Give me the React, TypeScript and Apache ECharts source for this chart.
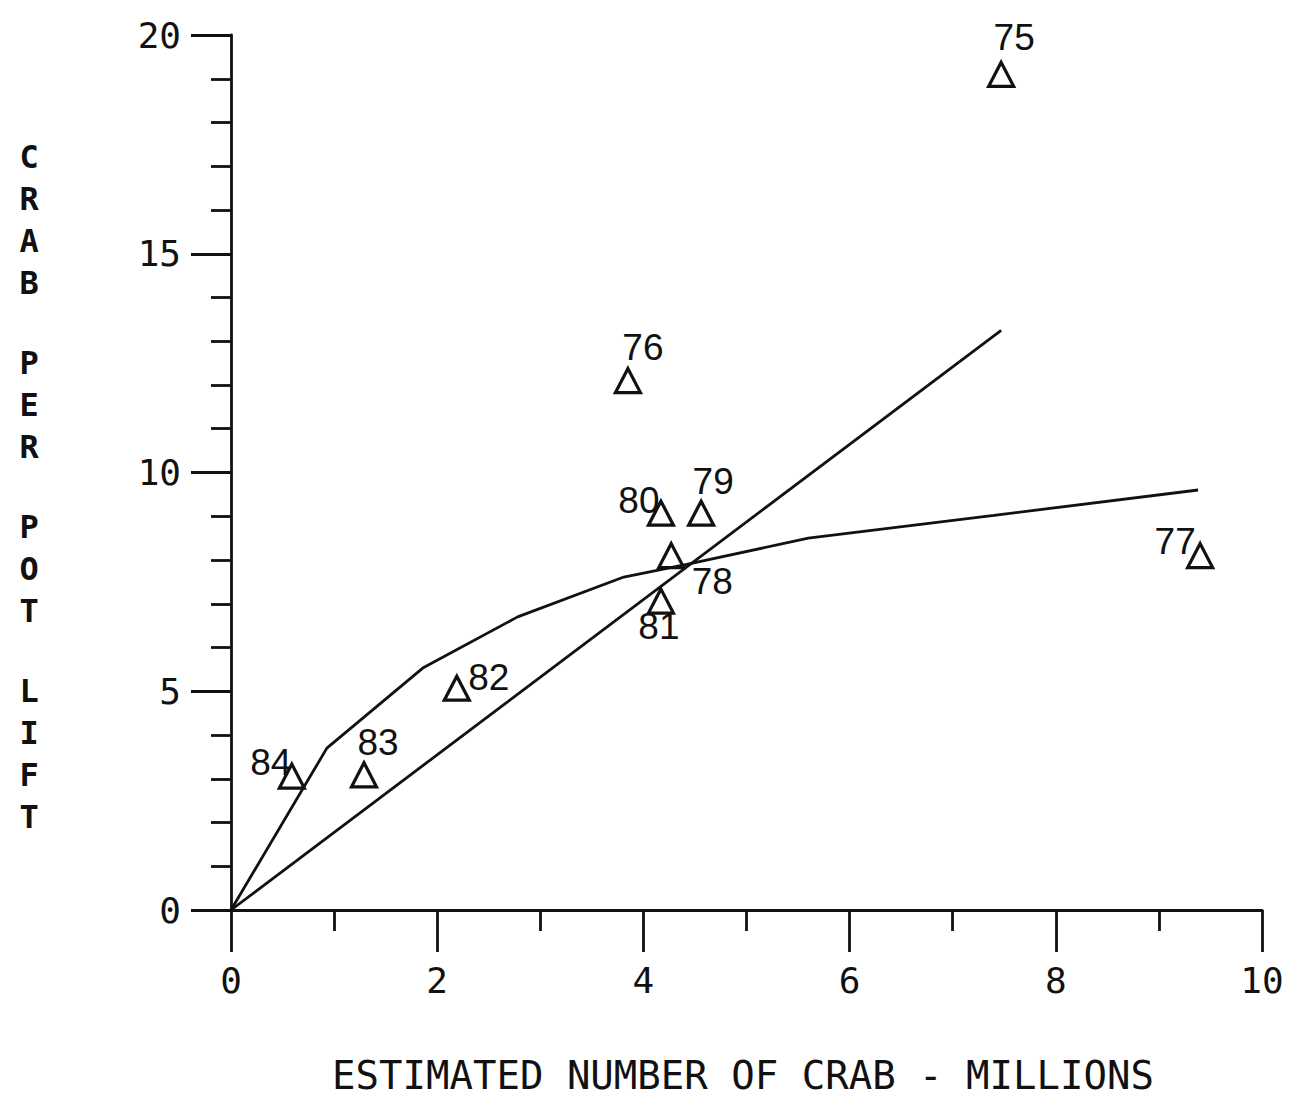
import { useEffect, useRef } from "react";
import * as echarts from "echarts";

// Year labels of the points (1975 ... 1984)
const years = ["75", "76", "77", "78", "79", "80", "81", "82", "83", "84"];
// Estimated number of crab (millions)
const crabMillions = [7.47, 3.85, 9.4, 4.27, 4.56, 4.17, 4.17, 2.19, 1.29, 0.59];
// Crab per pot lift
const crabPerPotLift = [19.1, 12.1, 8.1, 8.1, 9.07, 9.07, 7.06, 5.07, 3.09, 3.06];

// Fitted curve (asymptotic)
const curveX = [0, 0.93, 1.86, 2.78, 3.81, 4.42, 5.6, 7.4, 9.38];
const curveY = [0, 3.7, 5.53, 6.7, 7.61, 7.9, 8.5, 9.02, 9.6];

// Fitted straight line through origin
const lineX = [0, 7.47];
const lineY = [0, 13.25];

// Axis ticks
const xTicks = [0, 2, 4, 6, 8, 10];
const yTicks = [0, 5, 10, 15, 20];

const xTitle = "ESTIMATED NUMBER OF CRAB - MILLIONS";
const yTitle = "CRAB PER POT LIFT";

// label placement relative to triangle centre (layout, not data)
const labelOffsets: Record<string, [number, number]> = {
  "75": [13, -37],
  "76": [15, -33],
  "77": [-25, -14],
  "78": [41, 26],
  "79": [12, -32],
  "80": [-22, -13],
  "81": [-2, 25],
  "82": [32, -11],
  "83": [14, -32],
  "84": [-21, -14],
};

const INK = "#111111";

export default function App() {
  const ref = useRef<HTMLDivElement>(null);

  useEffect(() => {
    if (!ref.current) return;
    const chart = echarts.init(ref.current, undefined, { renderer: "svg" });

    const axisStyle = { color: INK, width: 2.8 };
    const labelFont = {
      fontFamily: "DejaVu Sans Mono",
      fontSize: 36,
      color: INK,
    };

    // vertical stacked y title
    const letters: any[] = [];
    let yPos = 157;
    const words = yTitle.split(" ");
    words.forEach((w, wi) => {
      for (const ch of w) {
        letters.push({
          type: "text",
          x: 29,
          y: yPos,
          style: {
            text: ch,
            fontFamily: "DejaVu Sans Mono",
            fontWeight: "bold",
            fontSize: 32,
            fill: INK,
            textAlign: "center",
            textVerticalAlign: "middle",
          },
        });
        yPos += 42;
      }
      if (wi < words.length - 1) yPos += 38;
    });

    chart.setOption({
      animation: false,
      backgroundColor: "#ffffff",
      grid: { left: 231, right: 29, top: 35, bottom: 189, containLabel: false },
      xAxis: {
        type: "value",
        min: xTicks[0],
        max: xTicks[xTicks.length - 1],
        interval: xTicks[1] - xTicks[0],
        axisLine: { show: true, onZero: false, lineStyle: axisStyle },
        axisTick: { show: true, length: 42, lineStyle: axisStyle },
        minorTick: { show: true, splitNumber: 2, length: 21, lineStyle: axisStyle },
        splitLine: { show: false },
        minorSplitLine: { show: false },
        axisLabel: { ...labelFont, margin: 52 },
      },
      yAxis: {
        type: "value",
        min: yTicks[0],
        max: yTicks[yTicks.length - 1],
        interval: yTicks[1] - yTicks[0],
        axisLine: { show: true, onZero: false, lineStyle: axisStyle },
        axisTick: { show: true, length: 40, lineStyle: axisStyle },
        minorTick: { show: true, splitNumber: 5, length: 20, lineStyle: axisStyle },
        splitLine: { show: false },
        minorSplitLine: { show: false },
        axisLabel: { ...labelFont, margin: 50 },
      },
      series: [
        {
          type: "line",
          data: curveX.map((x, i) => [x, curveY[i]]),
          symbol: "none",
          lineStyle: { color: INK, width: 2.8 },
          z: 2,
        },
        {
          type: "line",
          data: lineX.map((x, i) => [x, lineY[i]]),
          symbol: "none",
          lineStyle: { color: INK, width: 2.8 },
          z: 2,
        },
        {
          type: "scatter",
          symbol: "triangle",
          symbolSize: [25, 24],
          itemStyle: {
            color: "rgba(0,0,0,0)",
            borderColor: INK,
            borderWidth: 3.2,
            opacity: 1,
          },
          emphasis: { disabled: true },
          z: 3,
          data: years.map((yr, i) => ({
            name: yr,
            value: [crabMillions[i], crabPerPotLift[i]],
            label: {
              show: true,
              position: "inside",
              offset: labelOffsets[yr],
              formatter: yr,
              fontFamily: "Liberation Sans",
              fontSize: 37,
              color: INK,
              opacity: 1,
            },
          })),
        },
      ],
      graphic: [
        {
          type: "text",
          x: 743,
          y: 1075,
          style: {
            text: xTitle,
            fontFamily: "DejaVu Sans Mono",
            fontSize: 39,
            fill: INK,
            textAlign: "center",
            textVerticalAlign: "middle",
          },
        },
        ...letters,
      ],
    });

    return () => chart.dispose();
  }, []);

  return (
    <div
      ref={ref}
      style={{ position: "fixed", left: 0, top: 0, width: 1291, height: 1099, background: "#fff" }}
    />
  );
}
